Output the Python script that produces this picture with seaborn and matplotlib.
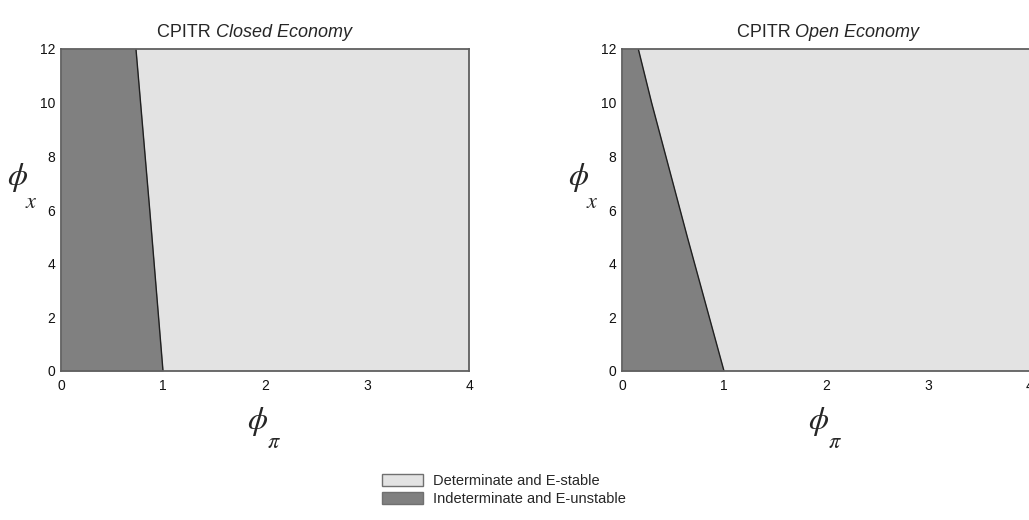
import numpy as np
import matplotlib.pyplot as plt
import seaborn as sns
from matplotlib.patches import Patch

sns.set_style("white")
plt.rcParams['font.family'] = ['Liberation Sans', 'DejaVu Sans']
plt.rcParams['mathtext.fontset'] = 'stix'

# eksen sınırları
phi_pi_max = 4
phi_x_max = 12
x_ticks = [0, 1, 2, 3, 4]
y_ticks = [0, 2, 4, 6, 8, 10, 12]

# bölge sınırları (phi_pi, phi_x)
closed_bound_x = [1.0, 0.87, 0.735]
closed_bound_y = [0, 6, 12]
open_bound_x = [1.0, 0.64, 0.29, 0.16]
open_bound_y = [0, 5, 10, 12]

titles = [("CPITR ", "Closed Economy"), ("CPITR ", "Open Economy")]
legend_labels = ["Determinate and E-stable", "Indeterminate and E-unstable"]

light = "#e3e3e3"
dark = "#808080"

W, H = 1029, 520
fig = plt.figure(figsize=(W / 100, H / 100), dpi=100)

panels = [
    (61, closed_bound_x, closed_bound_y, 0.38),
    (622, open_bound_x, open_bound_y, 0.425),
]
for i, (left_px, bx, by, t_anchor) in enumerate(panels):
    ax = fig.add_axes([left_px / W, 1 - 371 / H, 408 / W, 322 / H])
    ax.set_facecolor(light)
    ax.fill_betweenx(by, 0, bx, color=dark, lw=0)
    sns.lineplot(x=bx, y=by, orient="y", sort=False, color="#202020", lw=1.0, ax=ax)
    ax.set_xlim(0, phi_pi_max)
    ax.set_ylim(0, phi_x_max)
    ax.set_xticks(x_ticks)
    ax.set_yticks(y_ticks)
    ax.tick_params(length=0, labelsize=10, pad=4, labelcolor="#111111")
    ax.tick_params(axis="x", pad=6)
    for s in ax.spines.values():
        s.set_color("#606060")
        s.set_linewidth(1.3)

    t1 = ax.text(t_anchor, 1.025, titles[i][0], transform=ax.transAxes,
                 ha="right", va="bottom", fontsize=13)
    ax.annotate(titles[i][1], xy=(1, 0), xycoords=t1, ha="left", va="bottom",
                fontsize=13, style="italic")

    # eksen etiketleri (phi)
    dx = left_px - 61
    fig.text((18 + dx) / W, 1 - 177 / H, r"$\phi$", fontsize=23, ha="center", va="center")
    fig.text((31 + dx) / W, 1 - 202 / H, r"$x$", fontsize=16, ha="center", va="center")
    fig.text((258 + dx) / W, 1 - 422 / H, r"$\phi$", fontsize=23, ha="center", va="center")
    fig.text((274 + dx) / W, 1 - 443 / H, r"$\pi$", fontsize=16, ha="center", va="center")

handles = [Patch(facecolor=light, edgecolor="#707070", lw=1),
           Patch(facecolor=dark, edgecolor="#707070", lw=1)]
fig.legend(handles, legend_labels, loc="upper left",
           bbox_to_anchor=(376 / W, 1 - 468 / H), frameon=False,
           fontsize=10.5, handlelength=2.8, handleheight=0.9,
           handletextpad=0.7, labelspacing=0.25, borderaxespad=0)

fig.savefig("out.png", dpi=100)
